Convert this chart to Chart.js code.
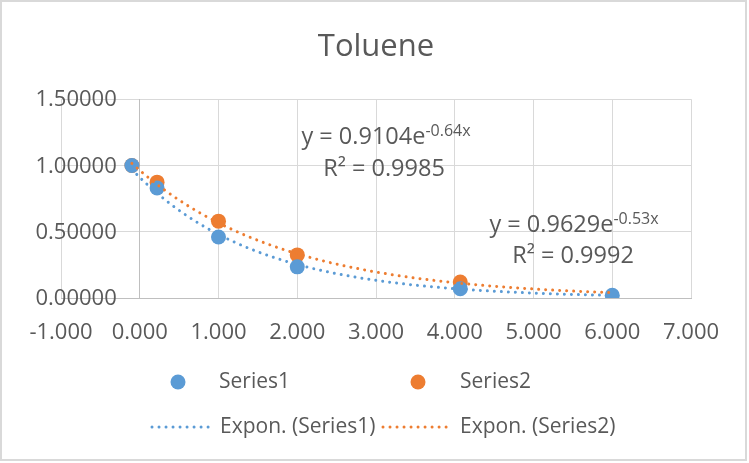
<!DOCTYPE html>
<html><head><meta charset="utf-8">
<script src="https://cdn.jsdelivr.net/npm/chart.js@4.4.0/dist/chart.umd.min.js"></script>
<style>html,body{margin:0;padding:0;background:#fff}#wrap{width:749px;height:463px;position:relative}</style>
</head><body><div id="wrap"><canvas id="c" width="749" height="463"></canvas></div>
<script>
// ---- data ----
const chartTitle = 'Toluene';
const seriesNames = ['Series1', 'Series2'];
const trendNames = ['Expon. (Series1)', 'Expon. (Series2)'];
const series1X = [-0.1, 0.22, 1.0, 2.0, 4.07, 6.0];
const series1Y = [1.0, 0.83, 0.46, 0.235, 0.07, 0.02];
const series2X = [-0.1, 0.22, 1.0, 2.0, 4.07];
const series2Y = [1.0, 0.874, 0.58, 0.325, 0.12];
const trendA = [0.9104, 0.9629];
const trendB = [-0.64, -0.53];
const trendXStart = [-0.1, -0.1];
const trendXEnd = [6.0, 6.0];
const trendEquation = ['y = 0.9104e', 'y = 0.9629e'];
const trendExponent = ['-0.64x', '-0.53x'];
const trendR2 = ['R² = 0.9985', 'R² = 0.9992'];
const xTickValues = [-1, 0, 1, 2, 3, 4, 5, 6, 7];
const yTickValues = [0, 0.5, 1.0, 1.5];
const yTickLabels = yTickValues.map(v => v.toFixed(5));

// ---- styles ----
const COLORS = ['#5B9BD5', '#ED7D31'];
const TEXT = '#595959';
const FONT = "'Open Sans', sans-serif";
Chart.defaults.font.family = FONT;
Chart.defaults.color = TEXT;

const toPts = (xs, ys) => xs.map((x, i) => ({x: x, y: ys[i]}));

function dotted(ctx, color) {
  ctx.strokeStyle = color;
  ctx.lineWidth = 3;
  ctx.lineCap = 'round';
  ctx.setLineDash([0.01, 7]);
}

const overlay = {
  id: 'overlay',
  afterDatasetsDraw(chart) {
    const ctx = chart.ctx, xs = chart.scales.x, ys = chart.scales.y, a = chart.chartArea;
    ctx.save();
    ctx.beginPath();
    ctx.rect(a.left, a.top, a.right - a.left, a.bottom - a.top);
    ctx.clip();
    for (let s = 0; s < 2; s++) {
      const p0 = xs.getPixelForValue(trendXStart[s]);
      const p1 = xs.getPixelForValue(trendXEnd[s]);
      ctx.beginPath();
      for (let p = p0; p <= p1 + 0.001; p += 1) {
        const xv = xs.getValueForPixel(p);
        const yv = trendA[s] * Math.exp(trendB[s] * xv);
        const py = ys.getPixelForValue(yv);
        if (p === p0) ctx.moveTo(p, py); else ctx.lineTo(p, py);
      }
      dotted(ctx, COLORS[s]);
      ctx.stroke();
    }
    ctx.restore();
  },
  afterDraw(chart) {
    const ctx = chart.ctx, xs = chart.scales.x, ys = chart.scales.y;
    ctx.save();
    ctx.fillStyle = TEXT;
    // y tick labels next to the axis crossing x = 0
    ctx.font = '22px ' + FONT;
    ctx.textAlign = 'right';
    ctx.textBaseline = 'middle';
    const axX = xs.getPixelForValue(0);
    yTickValues.forEach((v, i) => ctx.fillText(yTickLabels[i], axX - 23, ys.getPixelForValue(v) + 1));
    // trendline labels
    const eqPos = [[386, 144, 384, 176], [574, 232, 573, 263]];
    for (let s = 0; s < 2; s++) {
      const [cx, by, rx, rby] = eqPos[s];
      ctx.font = '23.5px ' + FONT;
      const w1 = ctx.measureText(trendEquation[s]).width;
      ctx.font = '16px ' + FONT;
      const w2 = ctx.measureText(trendExponent[s]).width;
      const left = cx - (w1 + w2) / 2;
      ctx.textBaseline = 'alphabetic';
      ctx.textAlign = 'left';
      ctx.font = '23.5px ' + FONT;
      ctx.fillText(trendEquation[s], left, by);
      ctx.font = '16px ' + FONT;
      ctx.fillText(trendExponent[s], left + w1, by - 8.5);
      ctx.font = '23.5px ' + FONT;
      ctx.textAlign = 'center';
      ctx.fillText(trendR2[s], rx, rby);
    }
    // legend
    ctx.font = '21px ' + FONT;
    ctx.textAlign = 'left';
    ctx.textBaseline = 'middle';
    const markerX = [178, 418], textX = [219, 460];
    const lineX = [[152, 211], [383, 452]], textX2 = [220, 460];
    for (let s = 0; s < 2; s++) {
      ctx.fillStyle = COLORS[s];
      ctx.beginPath();
      ctx.arc(markerX[s], 382, 7.5, 0, Math.PI * 2);
      ctx.fill();
      ctx.fillStyle = TEXT;
      ctx.fillText(seriesNames[s], textX[s], 382);
      ctx.beginPath();
      ctx.moveTo(lineX[s][0], 427);
      ctx.lineTo(lineX[s][1], 427);
      dotted(ctx, COLORS[s]);
      ctx.stroke();
      ctx.setLineDash([]);
      ctx.fillText(trendNames[s], textX2[s], 427);
    }
    // outer border
    ctx.strokeStyle = '#D9D9D9';
    ctx.lineWidth = 2;
    ctx.strokeRect(1, 1, 745, 459);
    ctx.restore();
  }
};

new Chart(document.getElementById('c'), {
  type: 'scatter',
  data: {
    datasets: [
      {label: seriesNames[0], data: toPts(series1X, series1Y), backgroundColor: COLORS[0], borderColor: COLORS[0],
       pointRadius: 7.5, pointBorderWidth: 0, pointHoverRadius: 7.5},
      {label: seriesNames[1], data: toPts(series2X, series2Y), backgroundColor: COLORS[1], borderColor: COLORS[1],
       pointRadius: 7.5, pointBorderWidth: 0, pointHoverRadius: 7.5}
    ]
  },
  options: {
    responsive: false,
    animation: false,
    devicePixelRatio: 1,
    layout: {padding: {left: 61, right: 58, top: 0, bottom: 117}},
    plugins: {
      legend: {display: false},
      tooltip: {enabled: false},
      title: {display: true, text: chartTitle, color: TEXT,
        font: {size: 31, weight: 'normal', family: FONT, lineHeight: 1.2},
        padding: {top: 29, bottom: 33}}
    },
    scales: {
      x: {
        type: 'linear', min: -1, max: 7,
        afterBuildTicks: s => { s.ticks = xTickValues.map(v => ({value: v})); },
        afterFit: s => { s.height = 48; },
        ticks: {callback: v => Number(v).toFixed(3), font: {size: 22, family: FONT}, color: TEXT, padding: 22, maxRotation: 0, autoSkip: false},
        grid: {color: '#D9D9D9', lineWidth: 1, drawTicks: false},
        border: {color: '#BFBFBF', width: 1}
      },
      y: {
        min: 0, max: 1.5,
        position: {x: 0},
        afterBuildTicks: s => { s.ticks = yTickValues.map(v => ({value: v})); },
        ticks: {display: false},
        grid: {color: '#D9D9D9', lineWidth: 1, drawTicks: false},
        border: {color: '#BFBFBF', width: 1}
      }
    }
  },
  plugins: [overlay]
});
</script></body></html>
